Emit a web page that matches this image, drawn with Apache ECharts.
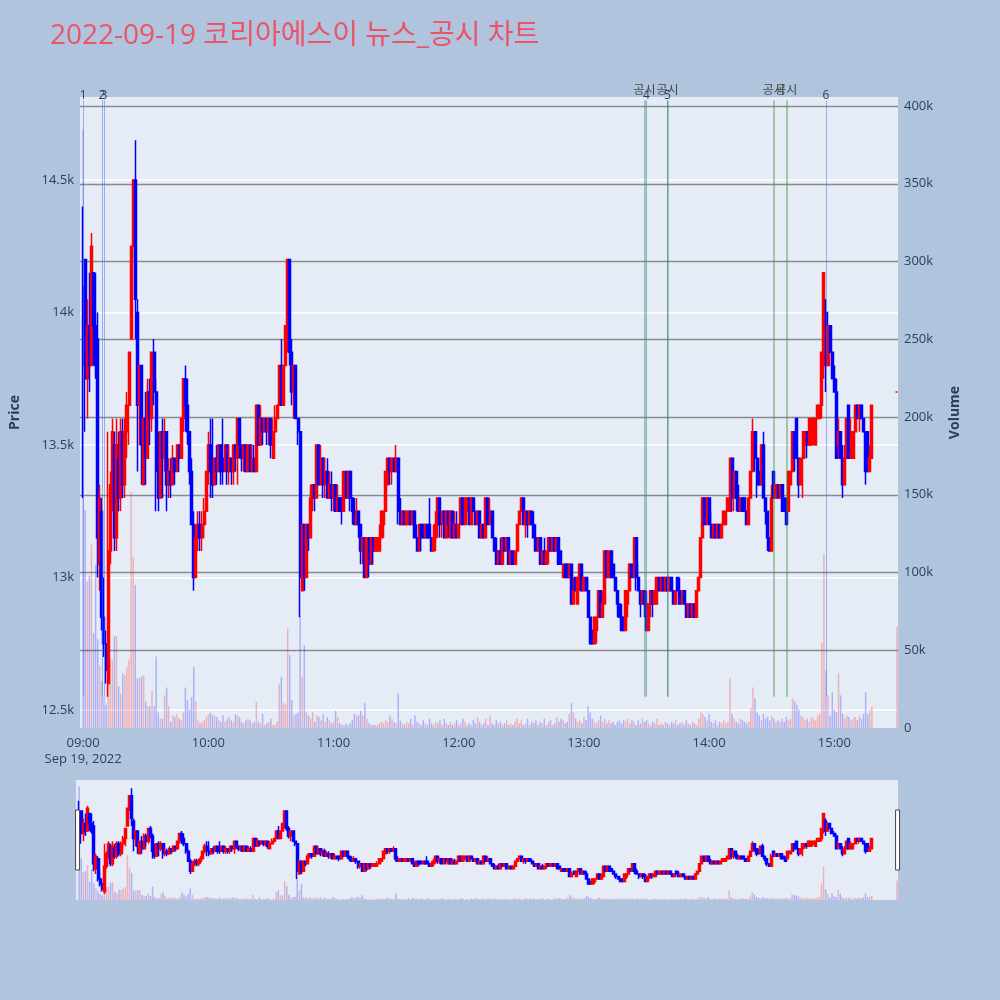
<!DOCTYPE html>
<html>
<head>
<meta charset="utf-8">
<script src="https://cdn.jsdelivr.net/npm/echarts@6/dist/echarts.min.js"></script>
<style>
  html, body { margin: 0; padding: 0; background: #b0c4de; }
  #chart { width: 1000px; height: 1000px; }
</style>
</head>
<body>
<div id="chart"></div>
<script>
// minute candles from 09:00, [open, close, low, high]; null = no trade that minute
var ohlc = [
  [14100,13800,13300,14400],[14200,13750,13550,14200],[13750,13950,13600,14050],[13950,13800,13700,14150],[13800,14250,13800,14300],[14150,13950,13800,14150],[13950,13800,13750,14150],[13900,13150,13000,14000],[13050,13300,12950,13350],[13250,12850,12800,13300],
  [12850,12750,12700,13000],[12750,12650,12600,12800],[12600,13100,12550,13550],[13100,13350,13050,13400],[13300,13550,13250,13600],[13500,13150,13100,13550],[13150,13500,13100,13600],[13450,13300,13250,13550],[13300,13550,13250,13600],[13550,13350,13300,13600],
  [13350,13550,13300,13600],[13550,13650,13450,13700],[13650,13850,13500,13850],[13900,14250,13900,14250],[14250,14500,14200,14500],[14500,14050,13900,14650],[14000,13650,13400,14050],[13650,13800,13500,13800],[13800,13500,13350,13800],[13350,13600,13350,13600],
  [13600,13450,13350,13700],[13450,13700,13450,13750],[13700,13600,13500,13750],[13600,13850,13550,13850],[13850,13700,13650,13900],[13700,13400,13250,13750],[13400,13300,13250,13550],[13300,13550,13300,13550],[13550,13450,13300,13600],[13450,13550,13400,13600],
  [13550,13350,13250,13550],[13350,13400,13300,13450],[13400,13350,13300,13450],[13350,13450,13350,13500],[13450,13400,13350,13450],[13400,13500,13400,13500],[13500,13450,13400,13500],[13450,13600,13450,13600],[13600,13750,13550,13750],[13750,13650,13550,13800],
  [13650,13550,13500,13750],[13550,13400,13350,13550],[13400,13200,13200,13450],[13200,13000,12950,13250],[13000,13150,13000,13200],[13150,13200,13100,13250],[13200,13150,13100,13250],[13150,13200,13100,13250],[13200,13250,13150,13300],[13250,13400,13250,13400],
  [13400,13500,13350,13550],[13500,13400,13300,13600],[13400,13350,13300,13600],[13350,13450,13350,13450],[13450,13400,13350,13500],[13400,13500,13400,13500],[13500,13400,13350,13500],[13450,13400,13350,13600],[13400,13500,13400,13500],[13500,13400,13350,13500],
  [13400,13450,13350,13500],[13450,13400,13350,13450],[13400,13500,13350,13500],[13500,13450,13400,13500],[13450,13600,13350,13600],[13600,13500,13450,13600],[13500,13450,13400,13500],[13450,13500,13400,13500],[13500,13400,13400,13500],[13400,13500,13400,13500],
  [13500,13400,13400,13500],[13400,13450,13400,13500],[13450,13400,13400,13500],[13400,13650,13400,13650],[13650,13500,13500,13650],[13500,13600,13500,13650],[13600,13550,13500,13600],[13550,13600,13550,13600],[13600,13550,13500,13600],[13550,13600,13500,13600],
  [13600,13500,13450,13600],[13450,13550,13450,13600],[13550,13600,13550,13650],[13600,13650,13600,13650],[13650,13800,13650,13800],[13800,13650,13650,13900],[13650,13800,13650,13800],[13800,13950,13800,13950],[13900,14200,13850,14200],[14200,13850,13800,14200],
  [13850,13700,13650,13900],[13700,13800,13600,13800],[13800,13600,13600,13800],[13600,13550,13500,13600],[13550,13000,12850,13550],[12950,13200,12950,13200],[13200,13000,12950,13200],[13000,13200,13000,13200],[13200,13150,13100,13200],[13150,13300,13150,13350],
  [13300,13350,13250,13350],[13350,13300,13250,13350],[13300,13500,13300,13500],[13500,13350,13350,13500],[13350,13450,13350,13500],[13450,13350,13300,13450],[13350,13400,13300,13450],[13400,13300,13300,13450],[13300,13350,13300,13400],[13350,13300,13250,13400],
  [13300,13350,13250,13350],[13350,13250,13250,13350],[13250,13300,13250,13350],[13300,13250,13250,13300],[13300,13250,13200,13300],[13250,13400,13250,13400],[13400,13300,13300,13400],[13300,13400,13300,13400],[13400,13300,13250,13400],[13300,13250,13200,13300],
  [13250,13200,13200,13300],[13200,13250,13200,13300],[13250,13200,13150,13250],[13200,13100,13050,13200],[13100,13150,13050,13150],[13150,13000,13000,13150],[13000,13150,13000,13150],[13150,13050,13000,13150],[13050,13150,13050,13150],[13150,13100,13050,13150],
  [13100,13150,13100,13150],[13100,13150,13100,13150],[13100,13150,13100,13200],[13150,13250,13150,13250],[13200,13250,13150,13250],[13250,13400,13250,13400],[13350,13450,13350,13450],[13450,13400,13350,13450],[13400,13450,13350,13450],[13450,13400,13400,13450],
  [13400,13450,13400,13500],[13450,13250,13200,13450],[13250,13200,13200,13300],[13200,13250,13200,13250],[13250,13200,13200,13250],[13200,13250,13200,13250],[13200,13250,13200,13250],[13250,13200,13200,13250],[13200,13250,13200,13250],[13250,13150,13150,13250],
  [13150,13100,13100,13200],[13100,13200,13100,13200],[13200,13150,13100,13200],[13200,13150,13150,13200],[13150,13200,13150,13200],[13200,13150,13150,13200],[13200,13150,13150,13300],[13150,13100,13100,13150],[13100,13150,13100,13200],[13150,13200,13100,13250],
  [13200,13300,13150,13300],[13300,13200,13150,13300],[13200,13250,13150,13250],[13250,13150,13150,13250],[13150,13250,13150,13250],[13250,13200,13150,13250],[13150,13250,13150,13250],[13250,13150,13150,13250],[13150,13200,13150,13250],[13200,13150,13150,13250],
  [13150,13200,13150,13200],[13200,13300,13200,13300],[13300,13200,13200,13300],[13200,13300,13200,13300],[13250,13300,13200,13300],[13300,13200,13200,13300],[13200,13300,13200,13300],[13300,13250,13250,13300],[13250,13200,13200,13250],[13200,13250,13200,13250],
  [13250,13150,13150,13250],[13150,13200,13150,13200],[13200,13150,13150,13200],[13150,13300,13150,13300],[13300,13200,13200,13300],[13200,13250,13200,13300],[13250,13150,13150,13250],[13150,13100,13100,13150],[13100,13050,13050,13150],[13050,13100,13050,13100],
  [13100,13050,13050,13150],[13050,13150,13050,13150],[13150,13100,13100,13150],[13100,13150,13100,13150],[13150,13050,13050,13150],[13050,13100,13050,13100],[13100,13050,13050,13100],[13050,13100,13050,13100],[13100,13200,13100,13200],[13200,13250,13200,13250],
  [13250,13300,13250,13300],[13300,13200,13200,13300],[13200,13250,13150,13250],[13250,13200,13150,13250],[13200,13250,13200,13250],[13250,13200,13200,13250],[13200,13150,13150,13250],[13150,13100,13100,13200],[13100,13150,13100,13150],[13150,13050,13050,13150],
  [13050,13100,13050,13100],[13100,13050,13050,13150],[13050,13100,13050,13100],[13100,13150,13050,13150],[13150,13100,13100,13150],[13100,13150,13100,13150],[13150,13100,13100,13150],[13100,13150,13100,13150],[13150,13050,13050,13150],[13100,13050,13050,13100],
  [13000,13050,13000,13050],[13050,13000,13000,13050],[13050,13000,13000,13050],[13000,13050,13000,13050],[13050,12900,12900,13050],[12900,12950,12900,13000],[13000,12950,12950,13000],[12900,13000,12900,13000],[13000,13050,12950,13050],[13050,12950,12950,13050],
  [12950,13000,12950,13000],[13000,12950,12950,13000],[12950,12850,12850,13000],[12850,12750,12750,12850],[12800,12750,12750,12800],[12750,12850,12750,12850],[12800,12850,12750,12850],[12850,12950,12850,12950],[12950,12850,12850,12950],[12850,12900,12850,12950],
  [12900,13100,12900,13100],[13100,13000,13000,13100],[13000,13100,13000,13100],[13100,13000,13000,13100],[13050,13000,13000,13050],[13000,12950,12950,13000],[12950,12900,12850,12950],[12900,12850,12850,12900],[12850,12800,12800,12900],[12850,12800,12800,12850],
  [12800,12950,12800,12950],[12900,12950,12850,12950],[12950,13050,12950,13050],[13050,13000,13000,13050],[13000,13150,13000,13150],[13150,13000,12950,13150],[13000,12950,12950,13050],[12950,12900,12850,12950],[12900,12950,12900,12950],[12950,12900,12850,12950],
  [12900,12800,12800,12950],[12800,12900,12800,12900],[12900,12950,12850,12950],[12950,12900,12850,12950],[12900,12950,12900,12950],[12900,13000,12900,13000],[13000,12950,12950,13000],[12950,13000,12950,13000],[13000,12950,12950,13000],[12950,13000,12950,13000],
  [13000,12950,12950,13000],[12950,13000,12950,13000],[13000,12950,12950,13000],[12950,12900,12900,12950],[12900,12950,12900,12950],[13000,12950,12950,13000],[12950,12900,12900,13000],[12900,12950,12900,12950],[12950,12900,12900,12950],[12900,12850,12850,12900],
  [12850,12900,12850,12900],[12900,12850,12850,12900],[12850,12900,12850,12900],[12900,12850,12850,12900],[12850,12950,12850,12950],[12950,13000,12950,13000],[13000,13150,13000,13150],[13150,13300,13150,13300],[13300,13200,13200,13300],[13200,13300,13200,13300],
  [13300,13200,13200,13300],[13200,13150,13150,13250],[13150,13200,13150,13200],[13200,13150,13150,13200],[13150,13200,13150,13200],[13200,13150,13150,13200],[13150,13200,13150,13200],[13200,13250,13200,13250],[13200,13250,13200,13250],[13250,13300,13250,13300],
  [13250,13450,13250,13450],[13450,13300,13250,13450],[13300,13400,13250,13400],[13400,13300,13250,13400],[13300,13250,13250,13350],[13250,13300,13250,13300],[13300,13250,13250,13300],[13300,13250,13250,13300],[13250,13200,13200,13250],[13200,13300,13200,13300],
  [13300,13400,13300,13400],[13400,13550,13400,13600],[13550,13450,13400,13550],[13450,13350,13300,13450],[13400,13350,13350,13450],[13350,13500,13350,13500],[13500,13300,13300,13550],[13300,13250,13200,13300],[13250,13150,13100,13250],[13150,13100,13100,13150],
  [13100,13300,13100,13350],[13400,13300,13300,13400],[13300,13350,13300,13350],[13350,13300,13300,13350],[13300,13350,13300,13350],[13350,13250,13250,13350],[13300,13250,13250,13300],[13250,13200,13200,13300],[13250,13400,13250,13400],[13350,13400,13350,13400],
  [13400,13550,13400,13550],[13550,13450,13400,13550],[13600,13450,13450,13600],[13450,13350,13300,13450],[13350,13450,13350,13450],[13450,13550,13300,13550],[13500,13550,13450,13550],[13550,13500,13450,13550],[13500,13600,13500,13600],[13500,13600,13500,13600],
  [13550,13600,13500,13600],[13500,13600,13500,13600],[13600,13650,13600,13650],[13600,13650,13600,13650],[13650,13850,13600,13850],[13800,14150,13750,14150],[14000,13800,13700,14050],[13800,13950,13800,13950],[13950,13850,13850,13950],[13850,13750,13750,13850],
  [13750,13700,13700,13800],[13700,13450,13450,13750],[13500,13550,13450,13600],[13550,13450,13450,13550],[13450,13350,13300,13500],[13350,13450,13350,13500],[13450,13600,13450,13600],[13650,13450,13450,13650],[13450,13550,13450,13600],[13450,13550,13450,13550],
  [13550,13650,13550,13650],[13650,13600,13600,13650],[13600,13650,13550,13650],[13650,13600,13600,13650],[13600,13550,13550,13600],[13550,13400,13350,13550],[13550,13400,13400,13550],[13400,13450,13400,13500],[13450,13650,13450,13650],
  null,null,null,null,null,null,null,null,null,null,null,
  [13700,13700,13700,13700]
];

// volume per minute, thousands of shares
var volumes = [
  385,140,94,98,118,61,105,57,40,30, 20,15,50,44,44,59,59,27,22,35,
  34,39,44,152,110,92,32,32,33,34, 17,14,14,24,14,46,10,6,6,21,
  26,14,4,8,7,9,6,5,10,26, 18,12,20,39,17,5,3,4,5,7,
  9,10,8,8,7,5,4,8,4,6, 7,5,4,9,8,7,4,3,5,6,
  5,3,4,17,4,3,9,2,3,4, 6,2,2,4,28,33,16,15,64,47,
  18,8,9,10,72,33,53,10,8,6, 10,4,8,7,5,9,4,7,5,3,
  4,11,7,3,2,2,3,2,3,5, 9,8,8,11,8,16,6,3,2,2,
  2,2,3,4,3,5,4,8,6,4, 3,22,5,3,2,4,3,6,2,8,
  4,3,2,5,3,2,6,3,2,4, 3,5,2,6,3,2,4,2,3,5,
  2,3,6,4,2,3,2,5,3,7, 4,2,3,6,2,8,3,2,5,3,
  4,2,3,5,2,3,2,4,6,3, 5,2,3,6,2,4,3,5,2,4,
  3,6,2,4,5,2,3,7,4,6, 5,3,4,9,16,10,6,4,5,3,
  7,5,14,10,6,4,3,5,8,4, 6,3,5,3,4,2,4,5,3,5,
  4,6,3,5,4,2,5,3,6,4, 5,3,2,4,3,6,2,3,2,4,
  3,2,4,3,5,2,3,4,2,5, 3,2,4,3,2,6,10,9,7,5,
  9,4,3,5,2,4,3,5,3,4, 32,9,6,4,3,6,5,4,3,4,
  13,26,19,10,8,5,9,6,7,5, 8,6,4,5,4,6,4,7,5,6,
  19,17,15,12,8,7,5,6,4,7, 6,5,8,9,55,112,37,21,8,23,
  12,10,35,21,9,6,8,7,5,6, 7,5,8,6,9,23,9,12,14,
  null,null,null,null,null,null,null,null,null,null,null,
  65
];

// numbered news markers and disclosure (공시) markers
var newsTimes = ['09:00', '09:09', '09:10', '13:30', '13:40', '14:56'];
var newsLabels = ['1', '2', '3', '4', '5', '6'];
var disclosureTimes = ['13:29', '13:40', '14:31', '14:37'];
var markerTop = 14800, markerBottom = 12550;

var priceMin = 12432, priceMax = 14813;
var volMax = 405.8;

var UP = '#ff0000', DOWN = '#0000ff';
var UP_VOL = 'rgba(255,0,0,0.25)', DOWN_VOL = 'rgba(0,0,255,0.25)';
var TXT = '#2a3f5f';

function pad2(n) { return (n < 10 ? '0' : '') + n; }

// axis categories: one per minute, 08:59 .. 15:30 (08:59 is only left padding)
var cats = [];
for (var t = 8 * 60 + 59; t <= 15 * 60 + 30; t++) {
  cats.push(pad2(Math.floor(t / 60)) + ':' + pad2(t % 60));
}

var candleData = ['-'];
var volData = ['-'];
for (var i = 0; i < ohlc.length; i++) {
  var d = ohlc[i];
  candleData.push(d ? d : '-');
  if (volumes[i] == null) {
    volData.push('-');
  } else {
    volData.push({
      value: volumes[i],
      itemStyle: {color: d[1] >= d[0] ? UP_VOL : DOWN_VOL}
    });
  }
}

var markLines = [];
newsTimes.forEach(function (tm, k) {
  markLines.push([
    {coord: [tm, markerTop],
     lineStyle: {color: 'rgba(70,110,230,0.5)', width: 1, type: 'solid'},
     label: {show: true, position: 'start', formatter: newsLabels[k], distance: -1,
             color: TXT, fontSize: 12}},
    {coord: [tm, markerBottom]}
  ]);
});
disclosureTimes.forEach(function (tm) {
  markLines.push([
    {coord: [tm, markerTop],
     lineStyle: {color: 'rgba(40,140,40,0.5)', width: 1.5, type: 'solid'},
     label: {show: true, position: 'start', formatter: '공시', distance: 4,
             color: '#444', fontSize: 12}},
    {coord: [tm, markerBottom]}
  ]);
});

var chart = echarts.init(document.getElementById('chart'));

var candleStyle = {
  color: UP, color0: DOWN, borderColor: UP, borderColor0: DOWN,
  borderColorDoji: UP, borderWidth: 1.5
};

var option = {
  backgroundColor: '#b0c4de',
  animation: false,
  textStyle: {fontFamily: '"Open Sans", "Noto Sans CJK KR", sans-serif'},
  title: {
    text: '2022-09-19 코리아에스이 뉴스_공시 차트',
    left: 50, top: 22, padding: 0,
    textStyle: {color: '#ec5367', fontSize: 28, fontWeight: 'normal',
                fontFamily: '"Open Sans", "Noto Sans CJK KR", sans-serif'}
  },
  grid: [
    {left: 76, right: 102, top: 97, height: 631, show: true,
     backgroundColor: '#e5ecf6', borderWidth: 0},
    {left: 76, right: 102, top: 780, height: 120, show: true,
     backgroundColor: '#e5ecf6', borderWidth: 0}
  ],
  xAxis: [
    {type: 'category', data: cats, gridIndex: 0, boundaryGap: true,
     axisLine: {show: false}, axisTick: {show: false},
     splitLine: {show: false},
     axisLabel: {
       color: TXT, fontSize: 13, margin: 7, lineHeight: 16,
       interval: function (idx, val) { return val.slice(3) === '00'; },
       formatter: function (val) {
         return val === '09:00' ? '09:00\nSep 19, 2022' : val;
       }
     }},
    {type: 'category', data: cats, gridIndex: 1, boundaryGap: true, show: false}
  ],
  yAxis: [
    {type: 'value', gridIndex: 0, position: 'left', min: priceMin, max: priceMax,
     splitNumber: 5, scale: true,
     name: 'Price', nameLocation: 'middle', nameGap: 58,
     nameTextStyle: {color: TXT, fontSize: 14, fontWeight: 'bold'},
     axisLine: {show: false}, axisTick: {show: false},
     axisLabel: {color: TXT, fontSize: 13, margin: 6, showMinLabel: false, showMaxLabel: false,
                 formatter: function (v) { return (v / 1000) + 'k'; }},
     splitLine: {show: true, showMinLine: false, showMaxLine: false,
                 lineStyle: {color: '#ffffff', width: 1.5}}},
    {type: 'value', gridIndex: 0, position: 'right', min: 0, max: volMax, interval: 50,
     name: 'Volume', nameLocation: 'middle', nameGap: 50,
     nameTextStyle: {color: TXT, fontSize: 14, fontWeight: 'bold'},
     axisLine: {show: false}, axisTick: {show: false},
     axisLabel: {color: TXT, fontSize: 13, margin: 6, showMaxLabel: false,
                 formatter: function (v) { return v === 0 ? '0' : v + 'k'; }},
     splitLine: {show: true, showMinLine: false, showMaxLine: false,
                 lineStyle: {color: '#8a8a8a', width: 1.3}}},
    {type: 'value', gridIndex: 1, min: priceMin, max: priceMax, show: false, splitLine: {show: false}},
    {type: 'value', gridIndex: 1, min: 0, max: volMax, show: false, splitLine: {show: false}}
  ],
  dataZoom: [{
    type: 'slider', xAxisIndex: 0, start: 0, end: 100,
    left: 76, right: 102, top: 780, height: 120,
    showDetail: false, showDataShadow: false, brushSelect: false,
    moveHandleSize: 0, borderColor: 'transparent',
    backgroundColor: 'rgba(0,0,0,0)', fillerColor: 'rgba(0,0,0,0)',
    handleIcon: 'path://M0,0 L4,0 L4,60 L0,60 Z', handleSize: '50%',
    handleStyle: {color: '#ffffff', borderColor: '#444444', borderWidth: 1},
    emphasis: {handleStyle: {color: '#ffffff', borderColor: '#444444'}}
  }],
  series: [
    {type: 'bar', name: 'Volume', xAxisIndex: 0, yAxisIndex: 1, data: volData,
     barWidth: '70%', silent: true, z: 1},
    {type: 'candlestick', name: 'Price', xAxisIndex: 0, yAxisIndex: 0, data: candleData,
     barWidth: 2.5, itemStyle: candleStyle, z: 3,
     markLine: {silent: true, symbol: ['none', 'none'], animation: false, data: markLines}},
    {type: 'bar', xAxisIndex: 1, yAxisIndex: 3, data: volData, barWidth: '70%', silent: true},
    {type: 'candlestick', xAxisIndex: 1, yAxisIndex: 2, data: candleData,
     barWidth: 2.5, itemStyle: candleStyle, silent: true}
  ]
};

chart.setOption(option);
</script>
</body>
</html>
